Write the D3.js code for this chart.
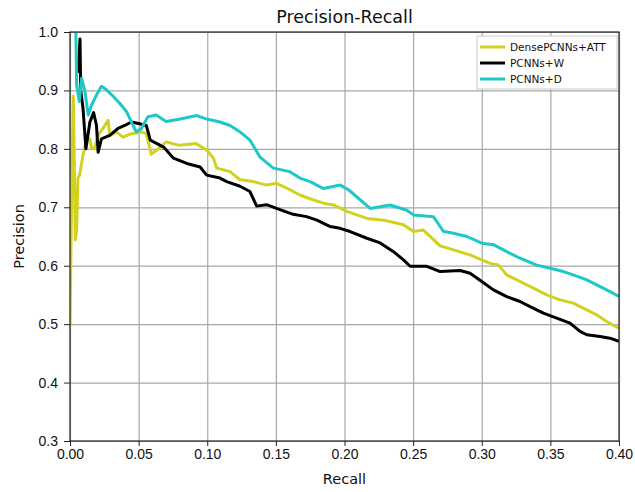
<!DOCTYPE html>
<html>
<head>
<meta charset="utf-8">
<script src="https://cdn.jsdelivr.net/npm/d3@7"></script>
<style>
    body { margin: 0; background: #fff; }
    svg { font-family: "DejaVu Sans", sans-serif; }
    .grid line { stroke: #a8a8a8; stroke-width: 1.2; }
    .grid .domain { display: none; }
    .axis text { font-size: 14px; fill: #111; }
    .axis line, .axis path { stroke: #222; }
    .pr-line { fill: none; stroke-width: 3; stroke-linejoin: round; }
</style>
</head>
<body>
<div id="pr-chart"></div>
<script>
// values
var seriesNames = ["DensePCNNs+ATT", "PCNNs+W", "PCNNs+D"];
var seriesColors = ["#d2d21e", "#000000", "#1ec8c8"];

var attRecall = [0, 0.0012, 0.0024, 0.003, 0.0038, 0.0048, 0.0058, 0.007, 0.0095, 0.012, 0.0145, 0.0157, 0.0175,
    0.021, 0.024, 0.0278, 0.029, 0.0338, 0.0386, 0.0447, 0.052, 0.0556, 0.0592, 0.0628, 0.07, 0.0797, 0.0918,
    0.0996, 0.1045, 0.1069, 0.1166, 0.1239, 0.1336, 0.1432, 0.1505, 0.1578, 0.1675, 0.1774, 0.1847, 0.192,
    0.2017, 0.2163, 0.2284, 0.243, 0.2502, 0.2575, 0.2697, 0.2794, 0.2915, 0.30, 0.3061, 0.3121, 0.3182,
    0.3279, 0.3376, 0.3473, 0.357, 0.3667, 0.3765, 0.3837, 0.391, 0.40];
var attPrecision = [0.50, 0.72, 0.89, 0.80, 0.644, 0.66, 0.75, 0.755, 0.79, 0.817, 0.817, 0.80, 0.80,
    0.825, 0.835, 0.849, 0.823, 0.829, 0.82, 0.826, 0.829, 0.826, 0.791, 0.797, 0.812, 0.806, 0.809,
    0.798, 0.784, 0.767, 0.761, 0.747, 0.744, 0.738, 0.741, 0.733, 0.721, 0.7125, 0.707, 0.704,
    0.693, 0.681, 0.678, 0.67, 0.6585, 0.661, 0.634, 0.627, 0.6185, 0.61, 0.604, 0.6014, 0.5843,
    0.573, 0.5615, 0.55, 0.5416, 0.5359, 0.5245, 0.516, 0.5046, 0.493];

var wRecall = [0.006, 0.0073, 0.0078, 0.0095, 0.0116, 0.0145, 0.0172, 0.0193, 0.0205, 0.0229, 0.029, 0.035,
    0.0399, 0.0447, 0.0507, 0.0556, 0.0585, 0.0682, 0.0754, 0.0851, 0.0948, 0.0996, 0.1093, 0.1142, 0.1239,
    0.1311, 0.136, 0.1432, 0.1529, 0.1626, 0.1723, 0.1799, 0.1896, 0.1968, 0.2041, 0.2163, 0.226, 0.2357,
    0.243, 0.2478, 0.26, 0.2697, 0.2842, 0.2915, 0.30, 0.3085, 0.3182, 0.3279, 0.3352, 0.3449, 0.3546,
    0.3643, 0.3716, 0.3765, 0.3862, 0.3934, 0.40];
var wPrecision = [0.93, 0.988, 0.90, 0.869, 0.80, 0.846, 0.862, 0.84, 0.794, 0.817, 0.823, 0.835,
    0.84, 0.846, 0.843, 0.84, 0.815, 0.803, 0.784, 0.775, 0.769, 0.755, 0.75, 0.744, 0.736,
    0.727, 0.702, 0.7045, 0.696, 0.688, 0.684, 0.678, 0.667, 0.664, 0.6585, 0.647, 0.639, 0.624,
    0.61, 0.599, 0.599, 0.59, 0.5917, 0.587, 0.573, 0.5587, 0.547, 0.5387, 0.53, 0.519, 0.5103,
    0.5017, 0.4875, 0.4818, 0.479, 0.476, 0.4704];

var dRecall = [0.0043, 0.0048, 0.0068, 0.0085, 0.0109, 0.0133, 0.0157, 0.0193, 0.0229, 0.0266, 0.0314, 0.0362,
    0.0411, 0.0447, 0.0483, 0.052, 0.0568, 0.0628, 0.07, 0.0803, 0.0924, 0.0996, 0.1093, 0.1166, 0.1239,
    0.1311, 0.1384, 0.1481, 0.1602, 0.1675, 0.175, 0.1847, 0.1968, 0.2029, 0.2187, 0.2333, 0.2454, 0.2502,
    0.2648, 0.272, 0.2794, 0.2891, 0.30, 0.3085, 0.3182, 0.3279, 0.34, 0.3498, 0.3595, 0.3667, 0.3765,
    0.3837, 0.391, 0.40];
var dPrecision = [1.0, 0.91, 0.881, 0.921, 0.898, 0.858, 0.875, 0.892, 0.907, 0.901, 0.89, 0.878,
    0.864, 0.846, 0.829, 0.835, 0.855, 0.858, 0.847, 0.851, 0.857, 0.851, 0.846, 0.84, 0.829,
    0.815, 0.786, 0.767, 0.761, 0.75, 0.744, 0.732, 0.738, 0.73, 0.698, 0.704, 0.695, 0.687,
    0.684, 0.659, 0.6556, 0.65, 0.6385, 0.636, 0.624, 0.6128, 0.601, 0.5957, 0.59, 0.5843, 0.5758,
    0.5672, 0.5587, 0.5473];

var xTicks = [0, 0.05, 0.10, 0.15, 0.20, 0.25, 0.30, 0.35, 0.40];
var yTicks = [0.3, 0.4, 0.5, 0.6, 0.7, 0.8, 0.9, 1.0];

function zipSeries(recall, precision) {
    return recall.map(function (r, i) {
        return {x: r, y: precision[i]};
    });
}

var series = [
    zipSeries(attRecall, attPrecision),
    zipSeries(wRecall, wPrecision),
    zipSeries(dRecall, dPrecision)
];

var graphWidth = 635, graphHeight = 492;
var margin = {top: 32, right: 16, bottom: 51, left: 70};
var width = graphWidth - margin.left - margin.right;
var height = graphHeight - margin.top - margin.bottom;

var svg = d3.select("#pr-chart")
    .append("svg")
    .attr("width", graphWidth)
    .attr("height", graphHeight);

var g = svg.append("g")
    .attr("transform", "translate(" + margin.left + "," + margin.top + ")");

var x = d3.scaleLinear().domain([0, 0.4]).range([0, width]);
var y = d3.scaleLinear().domain([0.3, 1.0]).range([height, 0]);

// gridlines
g.append("g")
    .attr("class", "grid")
    .attr("transform", "translate(0," + height + ")")
    .call(d3.axisBottom(x).tickValues(xTicks).tickSize(-height).tickFormat(""));

g.append("g")
    .attr("class", "grid")
    .call(d3.axisLeft(y).tickValues(yTicks).tickSize(-width).tickFormat(""));

// lines, clipped to the plot box
svg.append("defs").append("clipPath")
    .attr("id", "plot-clip")
    .append("rect")
    .attr("width", width)
    .attr("height", height);

var line = d3.line()
    .x(function (d) { return x(d.x); })
    .y(function (d) { return y(d.y); });

g.append("g")
    .attr("clip-path", "url(#plot-clip)")
    .selectAll("path")
    .data(series)
    .enter()
    .append("path")
    .attr("class", "pr-line")
    .attr("stroke", function (d, i) { return seriesColors[i]; })
    .attr("d", line);

// frame
g.append("rect")
    .attr("width", width)
    .attr("height", height)
    .attr("fill", "none")
    .attr("stroke", "#222")
    .attr("stroke-width", 1.2);

// X axis
g.append("g")
    .attr("class", "axis")
    .attr("transform", "translate(0," + height + ")")
    .call(d3.axisBottom(x).tickValues(xTicks).tickSize(5).tickPadding(3).tickFormat(d3.format(".2f")))
    .select(".domain").remove();

// Y axis
g.append("g")
    .attr("class", "axis")
    .call(d3.axisLeft(y).tickValues(yTicks).tickSize(6).tickPadding(6).tickFormat(d3.format(".1f")))
    .select(".domain").remove();

// title and axis labels
svg.append("text")
    .attr("x", margin.left + width / 2)
    .attr("y", 23)
    .attr("text-anchor", "middle")
    .attr("font-size", 17.5)
    .attr("fill", "#111")
    .text("Precision-Recall");

svg.append("text")
    .attr("x", margin.left + width / 2)
    .attr("y", 484)
    .attr("text-anchor", "middle")
    .attr("font-size", 14.5)
    .attr("fill", "#111")
    .text("Recall");

svg.append("text")
    .attr("transform", "translate(24," + (margin.top + height / 2) + ") rotate(-90)")
    .attr("text-anchor", "middle")
    .attr("font-size", 14.5)
    .attr("fill", "#111")
    .text("Precision");

// legend
var legend = g.append("g")
    .attr("transform", "translate(" + (width - 142) + ",4)");

legend.append("rect")
    .attr("width", 140)
    .attr("height", 53)
    .attr("fill", "#fff")
    .attr("stroke", "#ccc");

var legendRow = legend.selectAll(".legend-row")
    .data(seriesNames)
    .enter()
    .append("g")
    .attr("class", "legend-row")
    .attr("transform", function (d, i) { return "translate(0," + (11 + i * 16) + ")"; });

legendRow.append("line")
    .attr("x1", 3)
    .attr("x2", 28)
    .attr("stroke", function (d, i) { return seriesColors[i]; })
    .attr("stroke-width", 3);

legendRow.append("text")
    .attr("x", 33)
    .attr("dy", "0.35em")
    .attr("font-size", 10.5)
    .attr("fill", "#111")
    .text(function (d) { return d; });
</script>
</body>
</html>
